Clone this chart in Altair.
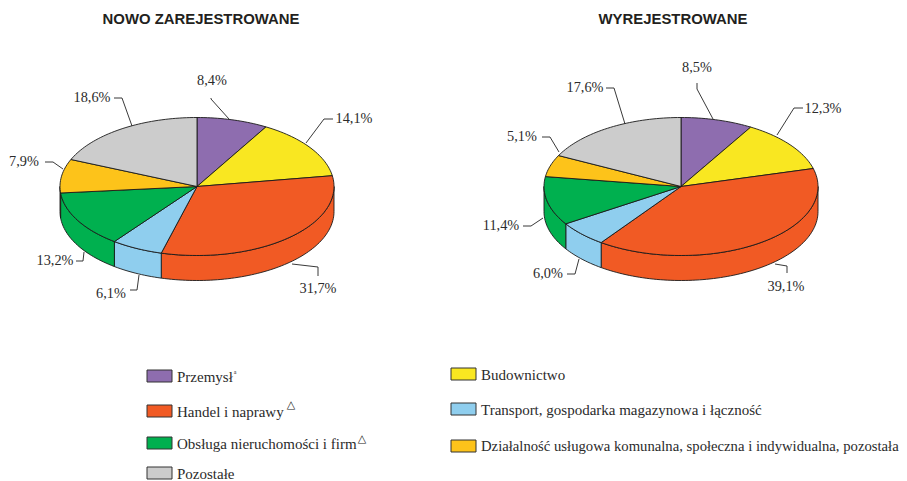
import math
import altair as alt
import pandas as pd

CATEGORIES = ["Przemysł", "Budownictwo", "Handel i naprawy",
              "Transport, gospodarka magazynowa i łączność",
              "Obsługa nieruchomości i firm",
              "Działalność usługowa komunalna, społeczna i indywidualna, pozostała",
              "Pozostałe"]
COLORS = ["#8E6DAF", "#F9E721", "#F15A24", "#8FCEEE", "#00B04F", "#FDC31A", "#CCCCCC"]
NEW_VALUES = [8.4, 14.1, 31.7, 6.1, 13.2, 7.9, 18.6]
OUT_VALUES = [8.5, 12.3, 39.1, 6.0, 11.4, 5.1, 17.6]
NEW_LABELS = ["8,4%", "14,1%", "31,7%", "6,1%", "13,2%", "7,9%", "18,6%"]
OUT_LABELS = ["8,5%", "12,3%", "39,1%", "6,0%", "11,4%", "5,1%", "17,6%"]
TITLES = ["NOWO ZAREJESTROWANE", "WYREJESTROWANE"]

# layout
W, H = 891, 473
PIES = [dict(cx=197, vals=NEW_VALUES), dict(cx=681, vals=OUT_VALUES)]
CY, RX, RY, DEPTH = 185.5, 137, 69, 25
TITLE_POS = [(201, 19), (673, 19)]
NEW_LABEL_POS = [(212, 80), (354, 118), (318, 288), (111, 293), (55, 260), (24, 161), (92, 97)]
OUT_LABEL_POS = [(697, 67), (823, 108), (786, 286), (548, 273), (501, 225), (522, 136), (585, 87)]
NEW_LEADERS = [[(211, 97), (211, 98), (229, 118)], [(333, 118), (324, 118), (306, 142)],
               [(318, 275), (318, 266), (292, 263)], [(130, 289), (137, 289), (139, 274)],
               [(76, 260), (83, 260), (84, 251)], [(45, 161), (53, 161), (63, 168)],
               [(114, 97), (122, 97), (132, 125)]]
OUT_LEADERS = [[(697, 82), (697, 88), (713, 118)], [(803, 107), (794, 107), (777, 134)],
               [(787, 272), (787, 265), (775, 263)], [(567, 273), (575, 273), (579, 258)],
               [(523, 225), (531, 225), (543, 217)], [(542, 136), (550, 136), (559, 151)],
               [(606, 87), (614, 87), (625, 123)]]
LEGEND_LAYOUT = {0: (147, 376), 2: (147, 411), 4: (147, 443), 6: (147, 473),
                 1: (451, 374), 3: (451, 409), 5: (451, 446)}
LEGEND_SIZES = {0: 15, 1: 15, 2: 15, 3: 15, 4: 15, 5: 14.7, 6: 15}
MARKS_POS = [("a", 235, 371, "Liberation Serif", 6), ("△", 291, 404, "DejaVu Sans", 11),
             ("△", 362, 438, "DejaVu Sans", 11)]


def pt(cx, a, dy=0):
    r = math.radians(a)
    return (cx + RX * math.sin(r), CY - RY * math.cos(r) + dy)


def arc(cx, a0, a1, dy=0):
    n = max(2, int(abs(a1 - a0) / 1.5) + 1)
    return [pt(cx, a0 + (a1 - a0) * i / n, dy) for i in range(n + 1)]


top, side = [], []
for p_i, pie in enumerate(PIES):
    cx = pie["cx"]
    a = 0.0
    for c_i, v in enumerate(pie["vals"]):
        a1 = a + v * 3.6
        pts = [(cx, CY)] + arc(cx, a, a1) + [(cx, CY)]
        pid = f"{p_i}-{c_i}"
        top += [dict(id=pid, o=k, x=x, y=y, c=COLORS[c_i]) for k, (x, y) in enumerate(pts)]
        s, e = max(a, 90), min(a1, 270)
        if e > s:
            band = arc(cx, s, e) + arc(cx, e, s, DEPTH)
            band.append(band[0])
            side += [dict(id=pid, o=k, x=x, y=y, c=COLORS[c_i]) for k, (x, y) in enumerate(band)]
        a = a1

X = alt.X("x:Q", scale=alt.Scale(domain=[8, 8 + W]), axis=None)
Y = alt.Y("y:Q", scale=alt.Scale(domain=[7 + H, 7]), axis=None)


def poly(rows):
    return alt.Chart(pd.DataFrame(rows)).mark_line(stroke="#1a1a1a", strokeWidth=0.9, strokeJoin="round").encode(
        x=X, y=Y, order="o:Q", detail="id:N", fill=alt.Fill("c:N", scale=None))


leaders = []
for g, group in enumerate([NEW_LEADERS, OUT_LEADERS]):
    for i, line in enumerate(group):
        leaders += [dict(id=f"{g}-{i}", o=k, x=x, y=y) for k, (x, y) in enumerate(line)]
leader_layer = alt.Chart(pd.DataFrame(leaders)).mark_line(stroke="#222222", strokeWidth=0.9).encode(
    x=X, y=Y, order="o:Q", detail="id:N")

labels = [dict(t=t, x=x, y=y) for t, (x, y) in
          zip(NEW_LABELS + OUT_LABELS, NEW_LABEL_POS + OUT_LABEL_POS)]
label_layer = alt.Chart(pd.DataFrame(labels)).mark_text(
    font="Liberation Serif", fontSize=14.3, color="#2b2b2b", align="center", baseline="middle"
).encode(x=X, y=Y, text="t:N")

title_layer = alt.Chart(pd.DataFrame(
    [dict(t=t, x=x, y=y) for t, (x, y) in zip(TITLES, TITLE_POS)])).mark_text(
    font="Liberation Sans", fontWeight="bold", fontSize=14.9, color="#231f20",
    align="center", baseline="middle").encode(x=X, y=Y, text="t:N")

sw = [dict(x=x, x2=x + 25, y=y - 7, y2=y + 5, c=COLORS[i]) for i, (x, y) in LEGEND_LAYOUT.items()]
sw_layer = alt.Chart(pd.DataFrame(sw)).mark_rect(stroke="#333333", strokeWidth=1).encode(
    x=X, x2="x2:Q", y=Y, y2="y2:Q", fill=alt.Fill("c:N", scale=None))

lt = [dict(t=CATEGORIES[i], x=x + 30, y=y, s=LEGEND_SIZES[i]) for i, (x, y) in LEGEND_LAYOUT.items()]
lt_layer = alt.Chart(pd.DataFrame(lt)).mark_text(
    font="Liberation Serif", color="#2b2b2b", align="left", baseline="middle"
).encode(x=X, y=Y, text="t:N", size=alt.Size("s:Q", scale=None))

extra_layers = [
    alt.Chart(pd.DataFrame([dict(t=t, x=x, y=y)])).mark_text(
        font=f, fontSize=s, color="#222222", align="center", baseline="middle"
    ).encode(x=X, y=Y, text="t:N")
    for t, x, y, f, s in MARKS_POS
]

chart = alt.layer(poly(side), poly(top), leader_layer, label_layer, title_layer,
                  sw_layer, lt_layer, *extra_layers).properties(
    width=W, height=H, padding=0,
    background="white"
).configure_view(stroke=None)

chart.save("out.html", embed_options={"renderer": "svg", "actions": False})
